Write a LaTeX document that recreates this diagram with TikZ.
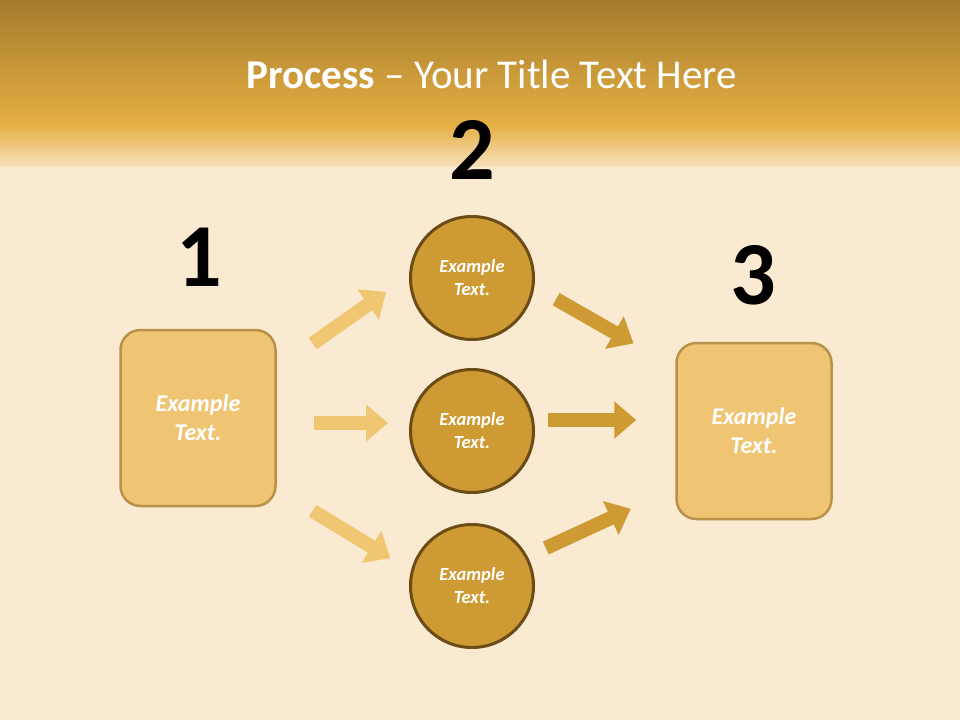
\documentclass[tikz,border=0pt]{standalone}
\usepackage{fontspec}
\setmainfont{Carlito}
\usetikzlibrary{arrows.meta}
\definecolor{barTop}{HTML}{A57C2D}
\definecolor{barMid}{HTML}{E5AF43}
\definecolor{woodLight}{HTML}{F7E2BE}
\definecolor{woodBase}{HTML}{FAEAD2}
\definecolor{boxFill}{HTML}{EFC574}
\definecolor{boxLine}{HTML}{B8914B}
\definecolor{ballFill}{HTML}{CE9A33}
\definecolor{ballLine}{HTML}{6B4C14}
\definecolor{arrowPale}{HTML}{F0C673}
\begin{document}
\begin{tikzpicture}[x=1pt,y=-1pt,
  box/.style={draw=boxLine, line width=2.5pt, fill=boxFill, rounded corners=20pt, minimum width=155pt, minimum height=176pt, text=white, align=center, font=\fontsize{24}{29}\selectfont\bfseries\itshape},
  ball/.style={circle, draw=ballLine, line width=3pt, fill=ballFill, minimum size=123pt, text=white, align=center, font=\fontsize{18.5}{23}\selectfont\bfseries\itshape},
  num/.style={font=\fontsize{90}{90}\selectfont\bfseries},
  paleArrow/.style={draw=arrowPale, line width=14pt, -{Triangle[width=36pt,length=22pt]}},
  darkArrow/.style={draw=ballFill, line width=14pt, -{Triangle[width=36pt,length=22pt]}}]
% background
\useasboundingbox (0,0) rectangle (960,720);
\fill[top color=barTop, bottom color=barMid] (0,0) rectangle (960,126);
\fill[top color=barMid, bottom color=woodLight] (0,125) rectangle (960,168);
\fill[woodBase] (0,167) rectangle (960,720);
\node[text=white, font=\fontsize{41}{46}\selectfont] (title) at (492,74) {\textbf{Process} – Your Title Text Here};
% steps
\node[box] (box1) at (198,418) {Example\\Text.};
\node[box] (box3) at (754,431) {Example\\Text.};
\node[ball] (c1) at (472,278) {Example\\Text.};
\node[ball] (c2) at (472,431) {Example\\Text.};
\node[ball] (c3) at (472,586) {Example\\Text.};
\node[num] (n1) at (199,257) {1};
\node[num] (n2) at (472,150) {2};
\node[num] (n3) at (753,275) {3};
% arrows
\draw[paleArrow, shorten <=44pt, shorten >=28pt] (box1.32) -- (c1.178);
\draw[paleArrow, shorten <=37pt, shorten >=21pt] ([yshift=-5pt]box1.east) -- ([yshift=8pt]c2.west);
\draw[paleArrow, shorten <=42pt, shorten >=24pt] (box1.-42.5) -- (c3.166);
\draw[darkArrow, shorten <=25pt, shorten >=48pt] (c1.-8.6) -- (box3.141.5);
\draw[darkArrow, shorten <=13pt, shorten >=39pt] ([yshift=11pt]c2.east) -- ([yshift=11pt]box3.west);
\draw[darkArrow, shorten <=20pt, shorten >=49pt] (c3.28) -- (box3.216.6);
\end{tikzpicture}
\end{document}
